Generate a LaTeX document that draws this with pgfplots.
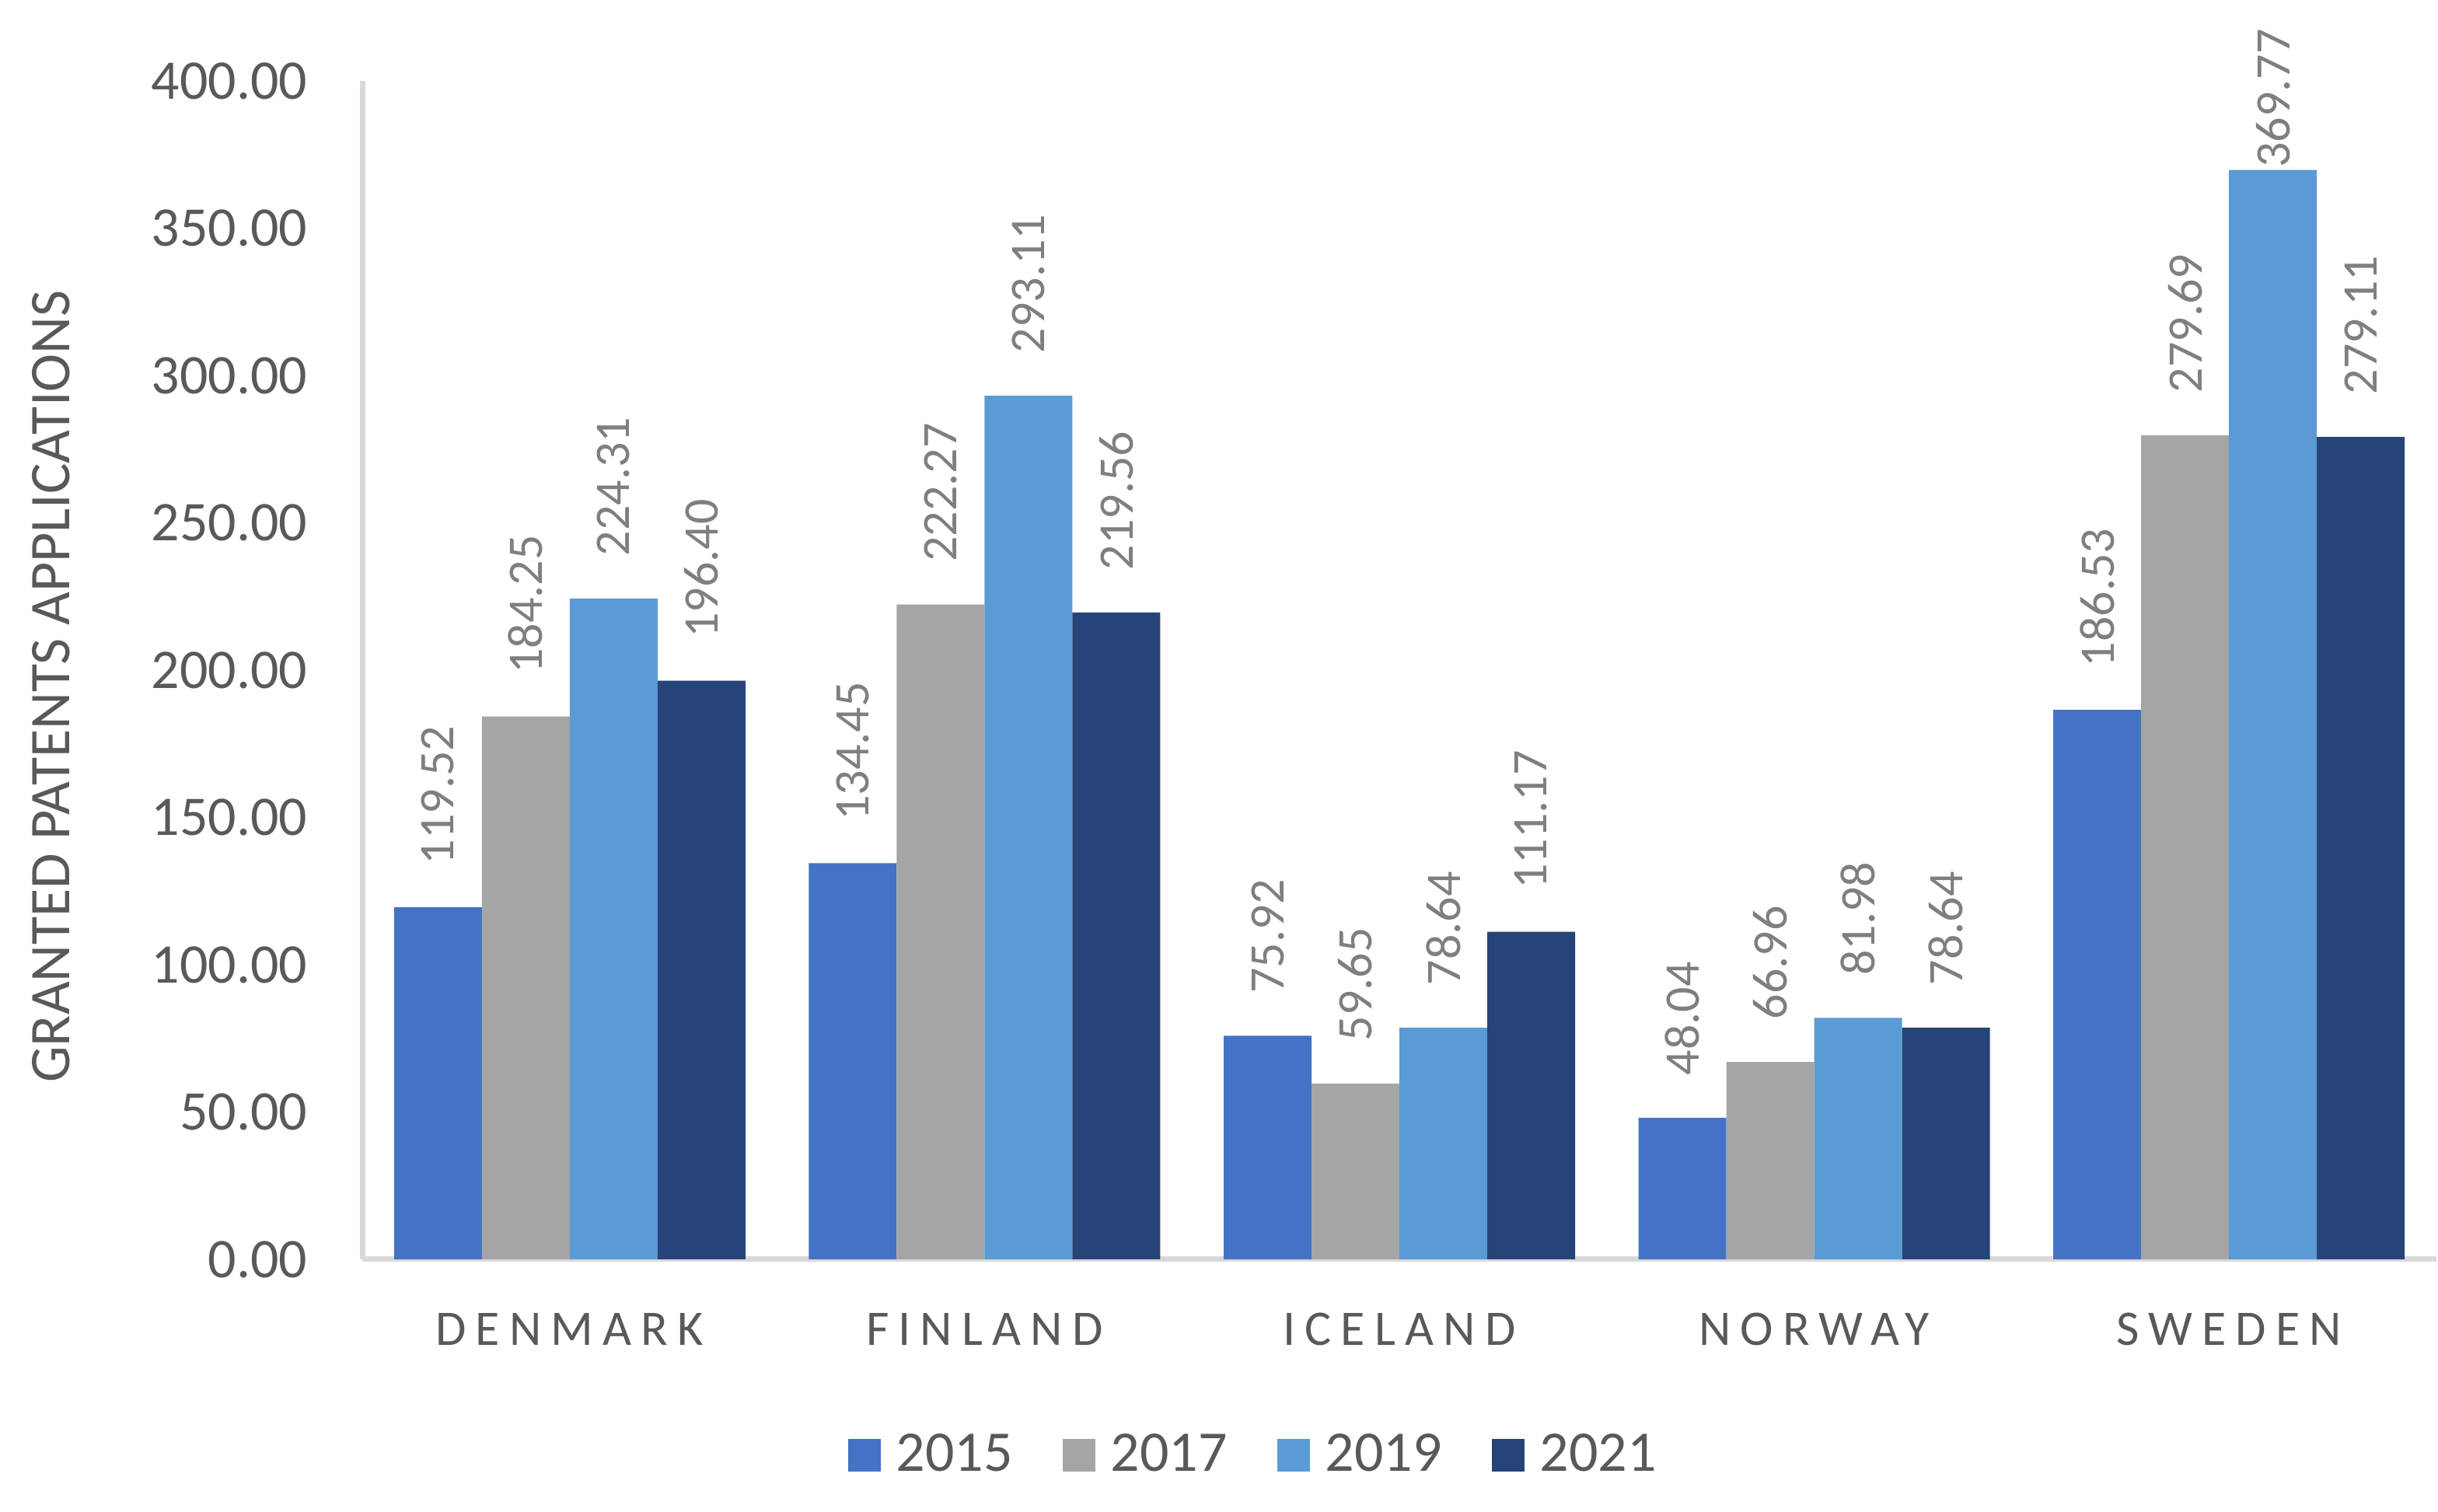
\documentclass[border=0pt]{standalone}
\usepackage{fontspec}
\setmainfont{Carlito}
\usepackage{pgfplots}
\pgfplotsset{compat=1.18}
\definecolor{c2015}{HTML}{4472C4}
\definecolor{c2017}{HTML}{A5A5A5}
\definecolor{c2019}{HTML}{5B9BD5}
\definecolor{c2021}{HTML}{264478}
\definecolor{textgray}{HTML}{595959}
\definecolor{labelgray}{HTML}{7F7F7F}
\definecolor{axisgray}{HTML}{D9D9D9}
\pgfplotsset{
  legbox/.style={legend image code/.code={\fill[##1] (0pt,-5.25pt) rectangle (10.5pt,5.25pt);}},
}
\begin{document}
\begin{tikzpicture}
\useasboundingbox (0,0) rectangle (784pt,486.25pt);
\begin{axis}[
  at={(116.5pt,81.25pt)}, anchor=south west,
  scale only axis, width=667pt, height=379pt,
  ybar=0pt, bar width=28.25pt,
  xmin=-0.5, xmax=4.5, ymin=0, ymax=400,
  xtick={0,...,4},
  xticklabels={DENMARK,FINLAND,ICELAND,NORWAY,SWEDEN},
  ytick={0,50,...,400},
  axis x line*=bottom, axis y line*=left,
  axis line style={draw=axisgray, line width=1.75pt, -},
  major tick length=0pt,
  /pgf/number format/assume math mode=true,
  yticklabel={\pgfmathprintnumber[fixed,fixed zerofill,precision=2]{\tick}},
  yticklabel style={font=\fontsize{18}{21}\selectfont, text=textgray, anchor=east, inner sep=0pt, xshift=-17.5pt},
  xticklabel style={font=\fontsize{16}{19}\selectfont\addfontfeature{LetterSpace=19}, text=textgray, anchor=base, inner sep=0pt, yshift=-27.75pt},
  ylabel={GRANTED PATENTS APPLICATIONS},
  ylabel style={at={(axis description cs:-0.1499,0.486)}, anchor=center, font=\fontsize{18.5}{22}\selectfont, text=textgray},
  visualization depends on={ifthenelse(y>350,0.5,13.5) \as \labsep},
  nodes near coords={\pgfmathprintnumber[fixed,fixed zerofill,precision=2]{\pgfplotspointmeta}},
  every node near coord/.append style={rotate=90, anchor=west, inner xsep=\labsep pt, inner ysep=0pt, font=\fontsize{16}{19}\selectfont, text=labelgray},
  legend columns=4,
  legend style={at={(0.429,-0.166)}, anchor=center, draw=none, fill=none,
    font=\fontsize{18.5}{22}\selectfont, text=textgray, nodes={inner sep=0pt},
    /tikz/every odd column/.append style={column sep=5pt},
    /tikz/every even column/.append style={column sep=16pt}},
]
\addplot[fill=c2015, draw=none, legbox] coordinates {(0,119.52) (1,134.45) (2,75.92) (3,48.04) (4,186.53)};
\addplot[fill=c2017, draw=none, legbox] coordinates {(0,184.25) (1,222.27) (2,59.65) (3,66.96) (4,279.69)};
\addplot[fill=c2019, draw=none, legbox] coordinates {(0,224.31) (1,293.11) (2,78.64) (3,81.98) (4,369.77)};
\addplot[fill=c2021, draw=none, legbox] coordinates {(0,196.40) (1,219.56) (2,111.17) (3,78.64) (4,279.11)};
\legend{2015,2017,2019,2021}
\end{axis}
\end{tikzpicture}
\end{document}
